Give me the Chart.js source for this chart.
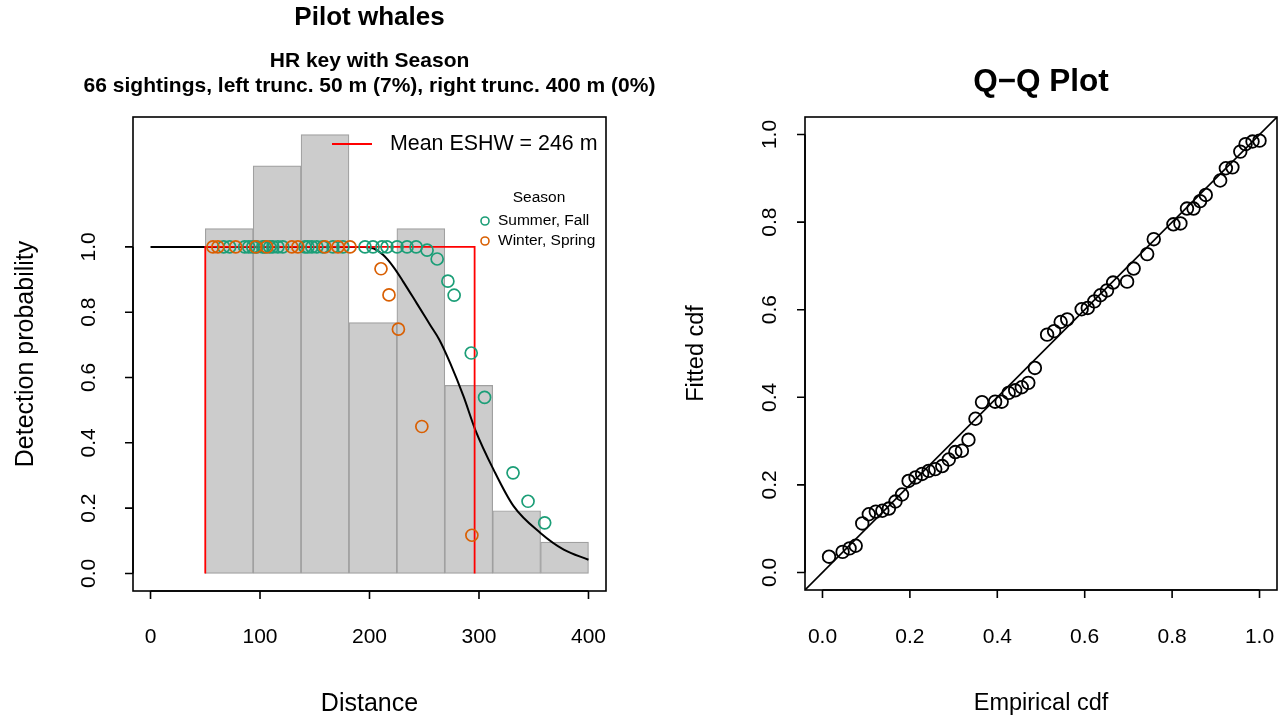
<!DOCTYPE html>
<html lang="en">
<head>
<meta charset="UTF-8">
<title>Pilot whales - detection function</title>
<script src="https://cdn.jsdelivr.net/npm/chart.js@4.4.1/dist/chart.umd.min.js"></script>
<style>
    body{
        margin: 0;
        background: #ffffff;
    }
    .wrap{
        position: relative;
        width: 1288px;
        height: 719px;
    }
    canvas{
        position: absolute;
        top: 0;
        left: 0;
    }
</style>
</head>
<body>
<div class="wrap">
    <canvas id="detfn" width="1288" height="719"></canvas>
    <canvas id="qqplot" width="1288" height="719"></canvas>
</div>
<script>
// histogram of distances (scaled counts)
var histBreaks = [50, 93.75, 137.5, 181.25, 225, 268.75, 312.5, 356.25, 400];
var histHeights = [1.056, 1.248, 1.344, 0.768, 1.056, 0.576, 0.192, 0.096];

// average detection function
var curveX = [0, 50, 100, 150, 180, 195.9, 204, 212.6, 221.8, 230.9, 243.2, 255.4, 263.9, 273.7, 285.9, 296.6, 313.3, 331.6, 356.1, 377.4, 400];
var curveY = [1, 1, 1, 1, 1, 1, 0.995, 0.975, 0.939, 0.893, 0.827, 0.761, 0.715, 0.644, 0.542, 0.440, 0.318, 0.206, 0.124, 0.073, 0.042];

// ESHW box
var eshwX = [50, 50, 296, 296];
var eshwY = [0, 1, 1, 0];

// observations by season
var summerX = [66.8, 72.3, 86.0, 89.7, 93.4, 97.0, 102.5, 104.3, 108.9, 111.7, 116.3, 120.8, 141.0, 143.7, 147.4, 151.9, 157.4, 166.6, 175.7, 195.9, 203.2, 211.4, 216.0, 225.2, 234.3, 242.6, 252.6, 261.8, 271.6, 277.3, 292.9, 305.1, 331.1, 344.8, 360.0];
var summerY = [1, 1, 1, 1, 1, 1, 1, 1, 1, 1, 1, 1, 1, 1, 1, 1, 1, 1, 1, 1, 1, 1, 1, 1, 1, 1, 0.99, 0.963, 0.895, 0.852, 0.675, 0.539, 0.308, 0.221, 0.155];
var winterX = [57.0, 61.5, 77.8, 96.1, 106.2, 129.1, 134.6, 159.3, 171.2, 182.2, 210.5, 217.8, 226.4, 247.8, 293.5];
var winterY = [1, 1, 1, 1, 1, 1, 1, 1, 1, 1, 0.933, 0.853, 0.748, 0.450, 0.117];

// Q-Q plot
var qqEmp = [0.015, 0.046, 0.062, 0.076, 0.091, 0.106, 0.122, 0.137, 0.152, 0.167, 0.182, 0.197, 0.213, 0.228, 0.243, 0.258, 0.274, 0.289, 0.304, 0.319, 0.334, 0.350, 0.365, 0.395, 0.410, 0.426, 0.441, 0.456, 0.471, 0.486, 0.514, 0.530, 0.545, 0.560, 0.593, 0.607, 0.622, 0.636, 0.651, 0.665, 0.697, 0.712, 0.743, 0.758, 0.803, 0.819, 0.834, 0.849, 0.864, 0.877, 0.910, 0.923, 0.938, 0.956, 0.968, 0.984, 1.0];
var qqFit = [0.036, 0.047, 0.055, 0.061, 0.112, 0.133, 0.139, 0.141, 0.146, 0.162, 0.178, 0.209, 0.217, 0.225, 0.232, 0.236, 0.243, 0.258, 0.275, 0.278, 0.303, 0.351, 0.389, 0.390, 0.390, 0.410, 0.416, 0.423, 0.433, 0.467, 0.543, 0.551, 0.572, 0.578, 0.601, 0.604, 0.619, 0.633, 0.644, 0.662, 0.664, 0.694, 0.727, 0.761, 0.795, 0.797, 0.831, 0.831, 0.848, 0.862, 0.895, 0.923, 0.925, 0.961, 0.978, 0.984, 0.986];

// tick labels
var detXTicks = [0, 100, 200, 300, 400];
var detYTicks = ["0.0", "0.2", "0.4", "0.6", "0.8", "1.0"];
var qqTicks = ["0.0", "0.2", "0.4", "0.6", "0.8", "1.0"];

var FONT = '"Liberation Sans", Arial, Helvetica, sans-serif';
var GREEN = '#1B9E77';
var ORANGE = '#D95F02';

function pts(xs, ys){
    return xs.map(function(v, i){ return {x: v, y: ys[i]}; });
}

function txt(ctx, s, x, y, size, bold, align, rot){
    ctx.save();
    ctx.font = (bold ? 'bold ' : '') + size + 'px ' + FONT;
    ctx.fillStyle = '#000';
    ctx.textAlign = align || 'center';
    ctx.textBaseline = 'middle';
    ctx.translate(x, y);
    if(rot) ctx.rotate(rot);
    ctx.fillText(s, 0, 0);
    ctx.restore();
}

// R style axes: box, ticks, rotated y labels
function drawAxes(chart, o){
    const ctx = chart.ctx, a = chart.chartArea;
    const xs = chart.scales.x, ys = chart.scales.y;
    ctx.save();
    ctx.strokeStyle = '#000';
    ctx.lineWidth = 1.6;
    ctx.strokeRect(a.left, a.top, a.right - a.left, a.bottom - a.top);

    // x axis
    let x0 = xs.getPixelForValue(+o.xTicks[0]);
    let x1 = xs.getPixelForValue(+o.xTicks[o.xTicks.length - 1]);
    ctx.beginPath();
    ctx.moveTo(x0, a.bottom); ctx.lineTo(x1, a.bottom);
    o.xTicks.forEach(function(t){
        let px = xs.getPixelForValue(+t);
        ctx.moveTo(px, a.bottom); ctx.lineTo(px, a.bottom + 8);
    });
    // y axis
    let y0 = ys.getPixelForValue(+o.yTicks[0]);
    let y1 = ys.getPixelForValue(+o.yTicks[o.yTicks.length - 1]);
    ctx.moveTo(a.left, y0); ctx.lineTo(a.left, y1);
    o.yTicks.forEach(function(t){
        let py = ys.getPixelForValue(+t);
        ctx.moveTo(a.left, py); ctx.lineTo(a.left - 8, py);
    });
    ctx.stroke();
    ctx.restore();

    o.xTicks.forEach(function(t){
        txt(ctx, String(t), xs.getPixelForValue(+t), 637, 21, false);
    });
    o.yTicks.forEach(function(t){
        txt(ctx, String(t), o.yLabX, ys.getPixelForValue(+t), 21, false, 'center', -Math.PI / 2);
    });
    let cx = (a.left + a.right) / 2;
    txt(ctx, o.xTitle, cx, 704, o.labSize, false);
    txt(ctx, o.yTitle, o.yTitleX, (a.top + a.bottom) / 2, o.labSize, false, 'center', -Math.PI / 2);
    o.titles.forEach(function(t){
        txt(ctx, t.text, cx, t.y, t.size, true);
    });
}

const detAxes = {
    id: 'detAxes',
    afterDraw(chart){
        drawAxes(chart, {
            xTicks: detXTicks, yTicks: detYTicks,
            yLabX: 89, yTitleX: 26, labSize: 25,
            xTitle: 'Distance', yTitle: 'Detection probability',
            titles: [
                {text: 'Pilot whales', y: 18, size: 26},
                {text: 'HR key with Season', y: 61, size: 21},
                {text: '66 sightings, left trunc. 50 m (7%), right trunc. 400 m (0%)', y: 86, size: 21}
            ]
        });
        const ctx = chart.ctx;
        // legend: mean ESHW
        ctx.save();
        ctx.strokeStyle = '#ff0000';
        ctx.lineWidth = 1.8;
        ctx.beginPath();
        ctx.moveTo(332, 144); ctx.lineTo(372, 144);
        ctx.stroke();
        ctx.restore();
        txt(ctx, 'Mean ESHW = 246 m', 390, 144, 21.4, false, 'left');
        // legend: season
        txt(ctx, 'Season', 539, 198, 15.5, false);
        [[GREEN, 'Summer, Fall', 221], [ORANGE, 'Winter, Spring', 241]].forEach(function(l){
            ctx.save();
            ctx.strokeStyle = l[0];
            ctx.lineWidth = 1.6;
            ctx.beginPath();
            ctx.arc(485, l[2], 4, 0, Math.PI * 2);
            ctx.stroke();
            ctx.restore();
            txt(ctx, l[1], 498, l[2], 15.5, false, 'left');
        });
    }
};

const qqAxes = {
    id: 'qqAxes',
    afterDraw(chart){
        drawAxes(chart, {
            xTicks: qqTicks, yTicks: qqTicks,
            yLabX: 770, yTitleX: 697, labSize: 23.5,
            xTitle: 'Empirical cdf', yTitle: 'Fitted cdf',
            titles: [{text: 'Q\u2212Q Plot', y: 82, size: 31.5}]
        });
    }
};

Chart.defaults.font.family = FONT;
Chart.defaults.animation = false;

// detection function panel
new Chart(document.getElementById('detfn'), {
    type: 'bar',
    data: {
        datasets: [{
            type: 'scatter',
            data: pts(winterX, winterY),
            borderColor: ORANGE,
            backgroundColor: 'rgba(0,0,0,0)',
            borderWidth: 1.7,
            pointRadius: 6,
            order: 1
        }, {
            type: 'scatter',
            data: pts(summerX, summerY),
            borderColor: GREEN,
            backgroundColor: 'rgba(0,0,0,0)',
            borderWidth: 1.7,
            pointRadius: 6,
            order: 2
        }, {
            type: 'line',
            data: pts(eshwX, eshwY),
            borderColor: '#ff0000',
            borderWidth: 1.8,
            pointRadius: 0,
            tension: 0,
            order: 3
        }, {
            type: 'line',
            data: pts(curveX, curveY),
            borderColor: '#000000',
            borderWidth: 2,
            pointRadius: 0,
            cubicInterpolationMode: 'monotone',
            order: 4
        }, {
            type: 'bar',
            data: histHeights.map(function(h, i){
                return {x: (histBreaks[i] + histBreaks[i + 1]) / 2, y: h};
            }),
            backgroundColor: '#cccccc',
            borderColor: '#a0a0a0',
            borderWidth: 1.2,
            borderSkipped: false,
            barPercentage: 1,
            categoryPercentage: 1,
            order: 5
        }]
    },
    options: {
        responsive: false,
        devicePixelRatio: 1,
        layout: {padding: {left: 133, right: 682, top: 117, bottom: 128}},
        plugins: {legend: {display: false}, tooltip: {enabled: false}},
        scales: {
            x: {type: 'linear', min: -16, max: 416, display: false, offset: false},
            y: {type: 'linear', min: -0.0538, max: 1.3978, display: false}
        }
    },
    plugins: [detAxes]
});

// Q-Q panel
new Chart(document.getElementById('qqplot'), {
    type: 'scatter',
    data: {
        datasets: [{
            data: pts(qqEmp, qqFit),
            borderColor: '#000000',
            backgroundColor: 'rgba(0,0,0,0)',
            borderWidth: 1.8,
            pointRadius: 6.3
        }, {
            type: 'line',
            data: [{x: -0.04, y: -0.04}, {x: 1.04, y: 1.04}],
            borderColor: '#000000',
            borderWidth: 1.6,
            pointRadius: 0
        }]
    },
    options: {
        responsive: false,
        devicePixelRatio: 1,
        layout: {padding: {left: 805, right: 11, top: 117, bottom: 129}},
        plugins: {legend: {display: false}, tooltip: {enabled: false}},
        scales: {
            x: {type: 'linear', min: -0.04, max: 1.04, display: false},
            y: {type: 'linear', min: -0.04, max: 1.04, display: false}
        }
    },
    plugins: [qqAxes]
});
</script>
</body>
</html>
